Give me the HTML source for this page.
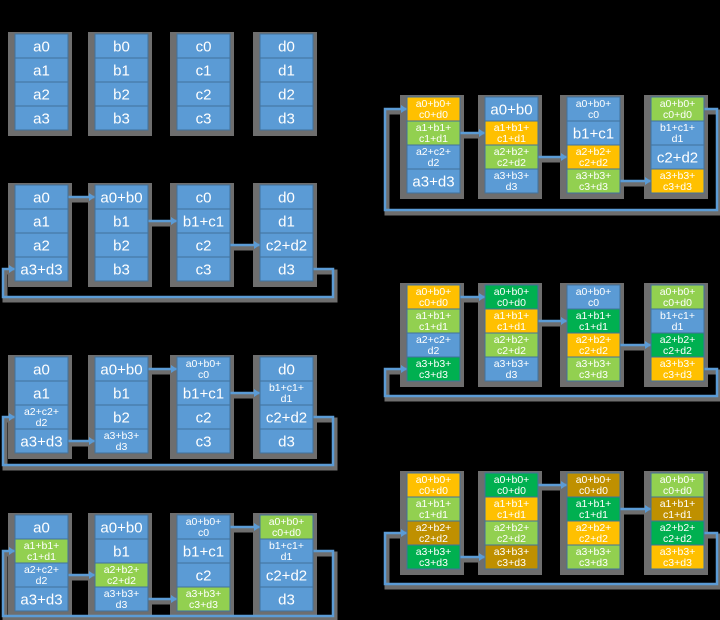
<!DOCTYPE html>
<html><head><meta charset="utf-8"><style>
html,body{margin:0;padding:0;background:#000;}
svg{display:block;}
text{font-family:"Liberation Sans","DejaVu Sans",sans-serif;fill:#fff;}
</style></head><body>
<svg id="s" width="720" height="620" viewBox="0 0 720 620"></svg>
<script>
const COLORS={B:'#5b9bd5',O:'#ffc000',G:'#92d050',D:'#00b050',K:'#bf9000'};
const leftX=[15,95,177,260], rightX=[407,485,567,651];
const CW=53, CH=24;
const P=(s)=>s.includes(':')?s.split(':'):['B',s];
const groups=[
 {name:'left-step-0',xs:leftX,top:34,loopY:null,lx:3,rx:333,arrows:[],loop:null,
  cols:[['a0','a1','a2','a3'],['b0','b1','b2','b3'],['c0','c1','c2','c3'],['d0','d1','d2','d3']]},
 {name:'left-step-1',xs:leftX,top:185,loopY:297,lx:3,rx:333,arrows:[0,1,2],loop:3,
  cols:[['a0','a1','a2','a3+d3'],['a0+b0','b1','b2','b3'],['c0','b1+c1','c2','c3'],['d0','d1','c2+d2','d3']]},
 {name:'left-step-2',xs:leftX,top:357,loopY:465,lx:3,rx:333,arrows:[3,0,1],loop:2,
  cols:[['a0','a1','a2+c2+|d2','a3+d3'],['a0+b0','b1','b2','a3+b3+|d3'],['a0+b0+|c0','b1+c1','c2','c3'],['d0','b1+c1+|d1','c2+d2','d3']]},
 {name:'left-step-3',xs:leftX,top:515,loopY:616,lx:3,rx:333,arrows:[2,3,0],loop:1,
  cols:[['a0','G:a1+b1+|c1+d1','a2+c2+|d2','a3+d3'],['a0+b0','b1','G:a2+b2+|c2+d2','a3+b3+|d3'],['a0+b0+|c0','b1+c1','c2','G:a3+b3+|c3+d3'],['G:a0+b0+|c0+d0','b1+c1+|d1','c2+d2','d3']]},
 {name:'right-step-1',xs:rightX,top:97,loopY:210,lx:385,rx:717,arrows:[1,2,3],loop:0,
  cols:[['O:a0+b0+|c0+d0','G:a1+b1+|c1+d1','a2+c2+|d2','a3+d3'],['a0+b0','O:a1+b1+|c1+d1','G:a2+b2+|c2+d2','a3+b3+|d3'],['a0+b0+|c0','b1+c1','O:a2+b2+|c2+d2','G:a3+b3+|c3+d3'],['G:a0+b0+|c0+d0','b1+c1+|d1','c2+d2','O:a3+b3+|c3+d3']]},
 {name:'right-step-2',xs:rightX,top:285,loopY:396,lx:385,rx:717,arrows:[0,1,2],loop:3,
  cols:[['O:a0+b0+|c0+d0','G:a1+b1+|c1+d1','a2+c2+|d2','D:a3+b3+|c3+d3'],['D:a0+b0+|c0+d0','O:a1+b1+|c1+d1','G:a2+b2+|c2+d2','a3+b3+|d3'],['a0+b0+|c0','D:a1+b1+|c1+d1','O:a2+b2+|c2+d2','G:a3+b3+|c3+d3'],['G:a0+b0+|c0+d0','b1+c1+|d1','D:a2+b2+|c2+d2','O:a3+b3+|c3+d3']]},
 {name:'right-step-3',xs:rightX,top:473,loopY:584,lx:385,rx:717,arrows:[3,0,1],loop:2,
  cols:[['O:a0+b0+|c0+d0','G:a1+b1+|c1+d1','K:a2+b2+|c2+d2','D:a3+b3+|c3+d3'],['D:a0+b0+|c0+d0','O:a1+b1+|c1+d1','G:a2+b2+|c2+d2','K:a3+b3+|c3+d3'],['K:a0+b0+|c0+d0','D:a1+b1+|c1+d1','O:a2+b2+|c2+d2','G:a3+b3+|c3+d3'],['G:a0+b0+|c0+d0','K:a1+b1+|c1+d1','D:a2+b2+|c2+d2','O:a3+b3+|c3+d3']]}
];
const svg=document.getElementById('s');
const NS='http://www.w3.org/2000/svg';
function el(tag,attrs,parent){const e=document.createElementNS(NS,tag);for(const k in attrs)e.setAttribute(k,attrs[k]);(parent||svg).appendChild(e);return e;}
groups.forEach(g=>{
  const G=el('g',{});
  
  
  const H=CH*4;
  // shadows
  g.xs.forEach((x,ci)=>{
    const r=el('rect',{x:x-7,y:g.top-2,width:CW+11,height:H+8,fill:'#6e6e6e'},G);
    
    
  });
  // connectors
  const drawLine=(pts,name)=>{
    const sh=el('polyline',{points:pts.map(p=>(p[0]+2)+','+(p[1]+3)).join(' '),fill:'none',stroke:'#6e6e6e','stroke-width':5},G);
    
    
    const l=el('polyline',{points:pts.map(p=>p[0]+','+p[1]).join(' '),fill:'none',stroke:'#5b9bd5','stroke-width':2.5},G);
    
    
    const e=pts[pts.length-1];
    const a=el('polygon',{points:(e[0])+','+e[1]+' '+(e[0]-6)+','+(e[1]-4)+' '+(e[0]-6)+','+(e[1]+4),fill:'#5b9bd5'},G);
    
    
  };
  g.arrows.forEach((row,i)=>{
    const y=g.top+row*CH+CH/2;
    drawLine([[g.xs[i]+CW,y],[g.xs[i+1],y]],'send-arrow');
  });
  if(g.loop!==null){
    const y=g.top+g.loop*CH+CH/2;
    drawLine([[g.xs[3]+CW,y],[g.rx,y],[g.rx,g.loopY],[g.lx,g.loopY],[g.lx,y],[g.xs[0],y]],'wrap-arrow');
  }
  // cells
  g.cols.forEach((col,ci)=>{
    const x=g.xs[ci];
    col.forEach((c,ri)=>{
      const [k,t]=P(c);
      const y=g.top+ri*CH;
      const r=el('rect',{x:x,y:y,width:CW,height:CH,fill:COLORS[k],stroke:'#41719c','stroke-width':1},G);
      
      
      const lines=t.split('|');
      if(lines.length===1){
        const tx=el('text',{x:x+CW/2,y:y+CH/2+5.5,'font-size':15,'text-anchor':'middle'},G);
        tx.textContent=t;
        
        
      } else {
        lines.forEach((ln,li)=>{
          const tx=el('text',{x:x+CW/2,y:y+10+li*11,'font-size':10.5,'text-anchor':'middle'},G);
          tx.textContent=ln;
          
          
        });
      }
    });
  });
});
</script>
</body></html>
